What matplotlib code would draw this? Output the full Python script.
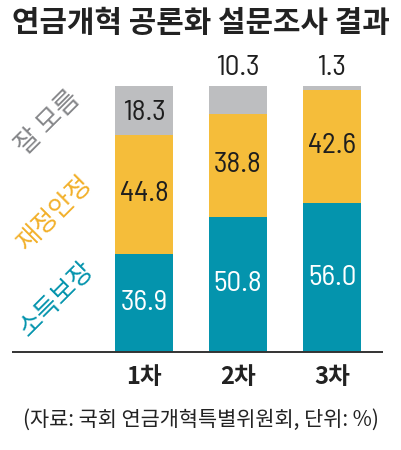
import matplotlib
matplotlib.use("Agg")
import matplotlib.pyplot as plt

plt.rcParams['font.family'] = ['Noto Sans CJK KR', 'DejaVu Sans']

title = "연금개혁 공론화 설문조사 결과"
categories = ["1차", "2차", "3차"]
series_names = ["소득보장", "재정안정", "잘 모름"]
income = [36.9, 50.8, 56.0]
fiscal = [44.8, 38.8, 42.6]
unknown = [18.3, 10.3, 1.3]
footnote = "(자료: 국회 연금개혁특별위원회, 단위: %)"

c_teal = "#0494ad"
c_yellow = "#f5bd3a"
c_gray = "#bdbec0"

W, H = 401, 450
fig = plt.figure(figsize=(W / 100, H / 100), dpi=100)
fig.patch.set_facecolor("white")
ax = fig.add_axes([12 / W, 98 / H, (383 - 12) / W, 266 / H])
ax.set_xlim(-1.404, 2.543)
ax.set_ylim(0, 100)
ax.axis("off")

x = list(range(len(categories)))
bw = 0.617
ax.bar(x, income, bw, color=c_teal)
ax.bar(x, fiscal, bw, bottom=income, color=c_yellow)
bottom3 = [a + b for a, b in zip(income, fiscal)]
ax.bar(x, unknown, bw, bottom=bottom3, color=c_gray)

num_font = dict(family=['Barlow Semi Condensed', 'Barlow Condensed', 'DejaVu Sans'],
                fontsize=21)
for i in x:
    ax.text(i, income[i] / 2, f"{income[i]:.1f}", ha="center", va="center",
            color="white", **num_font)
    ax.text(i, income[i] + fiscal[i] / 2, f"{fiscal[i]:.1f}", ha="center",
            va="center", color="#1e1e1e", **num_font)
    if unknown[i] > 12:
        ax.text(i, bottom3[i] + unknown[i] / 2 - 1, f"{unknown[i]:.1f}",
                ha="center", va="center", color="#1e1e1e", **num_font)
    else:
        ax.text(i, bottom3[i] + unknown[i] + 6.8, f"{unknown[i]:.1f}",
                ha="center", va="center", color="#1e1e1e", clip_on=False,
                **num_font)

# baseline
ax.plot([-1.404, 2.543], [0, 0], color="#333333", lw=1.4, clip_on=False,
        solid_capstyle="butt")

# rotated series labels
lab_pos = [(-0.926, 19.9, c_teal, 18.5), (-0.947, 52.3, "#f2b02a", 18.5),
           (-1.02, 86.1, "#86878a", 19)]
for name, (lx, ly, col, fs) in zip(series_names, lab_pos):
    ax.text(lx, ly, name, rotation=45, ha="center", va="center", color=col,
            fontsize=fs, fontweight="medium", rotation_mode="anchor")

# category labels
for i, c in enumerate(categories):
    ax.text(i, -9.4, c, ha="center", va="center", fontsize=17,
            fontweight="bold", color="#222222", clip_on=False)

fig.text(12 / W, 1 - 23 / H, title, ha="left", va="center", fontsize=21.5,
         fontweight="bold", color="#222222")
fig.text(23 / W, 1 - 420 / H, footnote, ha="left", va="center", fontsize=15,
         color="#222222")

fig.savefig("out.png", dpi=100, facecolor="white")
